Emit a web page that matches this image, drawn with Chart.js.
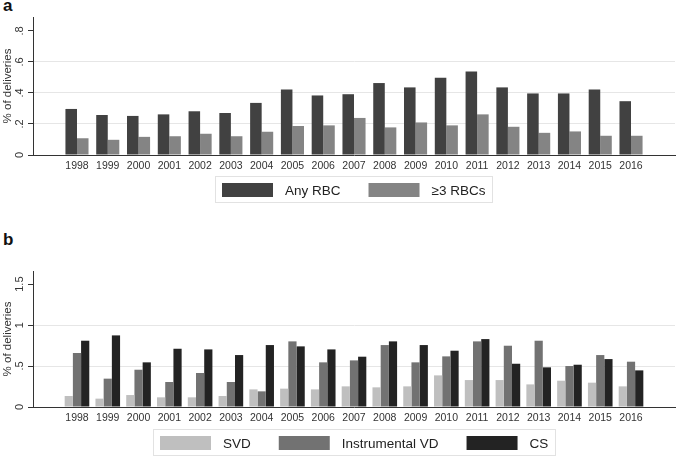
<!DOCTYPE html>
<html lang="en">
<head>
    <meta charset="UTF-8">
    <title>RBC transfusion by year</title>
    <script src="https://cdn.jsdelivr.net/npm/chart.js"></script>
    <style>
        body { margin: 0; background: #fff; font-family: "Liberation Sans", Arial, sans-serif; }
        .wrap { position: relative; width: 676px; height: 457px; }
        .wrap canvas { position: absolute; left: 0; }
        .panel { position: absolute; left: 3px; font-weight: bold; font-size: 17px; color: #111; }
    </style>
</head>
<body>
    <div class="wrap">
        <div class="panel" style="top:-4px">a</div>
        <canvas id="chartA" width="676" height="210" style="top:0"></canvas>
        <div class="panel" style="top:230px">b</div>
        <canvas id="chartB" width="676" height="242" style="top:215px"></canvas>
    </div>

    <script>
        // data (% of deliveries)
        const years = ['1998', '1999', '2000', '2001', '2002', '2003', '2004', '2005', '2006', '2007',
                       '2008', '2009', '2010', '2011', '2012', '2013', '2014', '2015', '2016'];
        const anyRbc = [0.297, 0.258, 0.252, 0.262, 0.282, 0.271, 0.336, 0.423, 0.384, 0.392,
                        0.464, 0.436, 0.499, 0.538, 0.436, 0.397, 0.397, 0.423, 0.347];
        const rbc3 = [0.108, 0.098, 0.117, 0.121, 0.137, 0.121, 0.150, 0.187, 0.191, 0.239,
                      0.178, 0.210, 0.191, 0.262, 0.182, 0.143, 0.152, 0.124, 0.124];
        const svd = [0.134, 0.102, 0.146, 0.118, 0.118, 0.134, 0.215, 0.224, 0.215, 0.252,
                     0.240, 0.252, 0.386, 0.329, 0.329, 0.276, 0.321, 0.297, 0.252];
        const instrVd = [0.659, 0.346, 0.455, 0.305, 0.415, 0.305, 0.191, 0.801, 0.545, 0.569,
                         0.756, 0.545, 0.618, 0.801, 0.748, 0.809, 0.500, 0.634, 0.553];
        const cs = [0.809, 0.874, 0.545, 0.711, 0.703, 0.634, 0.756, 0.740, 0.703, 0.614,
                    0.801, 0.756, 0.687, 0.829, 0.528, 0.484, 0.516, 0.585, 0.447];

        const fontFam = '"Liberation Sans", Arial, sans-serif';

        // legend with a thin frame, centred under the plot
        const boxLegend = {
            id: 'boxLegend',
            afterDraw(chart, args, opts) {
                const { ctx, chartArea } = chart;
                ctx.save();
                ctx.font = '13.5px ' + fontFam;
                const items = chart.data.datasets.map(ds => ({
                    label: ds.label, color: ds.backgroundColor, w: ctx.measureText(ds.label).width
                }));
                const total = items.reduce((s, it) => s + opts.boxWidth + opts.textGap + it.w, 0)
                    + opts.itemGap * (items.length - 1);
                let x = Math.round((chartArea.left + chartArea.right) / 2 - total / 2);
                const top = Math.round(chartArea.bottom + opts.offset);
                ctx.strokeStyle = '#e2e2e2';
                ctx.lineWidth = 1;
                ctx.strokeRect(x - 6.5, top - 6.5, Math.round(total + 14), opts.boxHeight + 12);
                ctx.textBaseline = 'middle';
                items.forEach(it => {
                    ctx.fillStyle = it.color;
                    ctx.fillRect(x, top, opts.boxWidth, opts.boxHeight);
                    x += opts.boxWidth + opts.textGap;
                    ctx.fillStyle = '#222';
                    ctx.fillText(it.label, x, top + opts.boxHeight / 2 + 1);
                    x += it.w + opts.itemGap;
                });
                ctx.restore();
            }
        };

        function makeChart(id, datasets, yMax, yStep, tickPad, pad, legendOffset, catPct) {
            return new Chart(document.getElementById(id), {
                type: 'bar',
                data: { labels: years, datasets: datasets },
                options: {
                    responsive: false,
                    animation: false,
                    layout: { padding: pad },
                    datasets: { bar: { categoryPercentage: catPct, barPercentage: 1, borderWidth: 0 } },
                    plugins: {
                        legend: { display: false },
                        tooltip: { enabled: false },
                        boxLegend: { boxWidth: 51, boxHeight: 14, textGap: 12, itemGap: 28, offset: legendOffset }
                    },
                    scales: {
                        x: {
                            type: 'linear',
                            min: 1998 - 0.88,
                            max: 2016 + 0.88,
                            grid: { display: false, drawTicks: false },
                            border: { display: true, color: '#333', width: 1 },
                            ticks: {
                                stepSize: 1, autoSkip: false, maxRotation: 0, includeBounds: false,
                                padding: 5, color: '#333',
                                font: { family: fontFam, size: 10.5 },
                                callback: v => String(v)
                            },
                            afterFit: s => { s.height = 14; }
                        },
                        y: {
                            min: 0,
                            max: yMax,
                            grid: {
                                color: c => (c.index === 0 || c.index === c.scale.ticks.length - 1) ? 'rgba(0,0,0,0)' : '#e6e6e6',
                                tickColor: '#333',
                                tickLength: 5
                            },
                            border: { display: true, color: '#333', width: 1 },
                            ticks: {
                                stepSize: yStep, includeBounds: false,
                                minRotation: 90, maxRotation: 90, crossAlign: 'center',
                                padding: tickPad, color: '#333',
                                font: { family: fontFam, size: 11 },
                                callback: v => String(Math.round(v * 10) / 10).replace(/^0\./, '.')
                            },
                            title: {
                                display: true, text: '% of deliveries', color: '#333',
                                font: { family: fontFam, size: 11.5 },
                                padding: { top: 1, bottom: 0 }
                            },
                            afterFit: s => { s.width = 33; }
                        }
                    }
                },
                plugins: [boxLegend]
            });
        }

        makeChart('chartA', [
            { label: 'Any RBC', data: anyRbc, backgroundColor: '#414141' },
            { label: '\u22653 RBCs', data: rbc3, backgroundColor: '#848484' }
        ], 0.89, 0.2, 3, { top: 17, right: 1, bottom: 41, left: 0 }, 28, 0.75);

        makeChart('chartB', [
            { label: 'SVD', data: svd, backgroundColor: '#bfbfbf' },
            { label: 'Instrumental VD', data: instrVd, backgroundColor: '#727272' },
            { label: 'CS', data: cs, backgroundColor: '#232323' }
        ], 1.66, 0.5, 0, { top: 56, right: 1, bottom: 36, left: 0 }, 29, 0.8);
    </script>
</body>
</html>
